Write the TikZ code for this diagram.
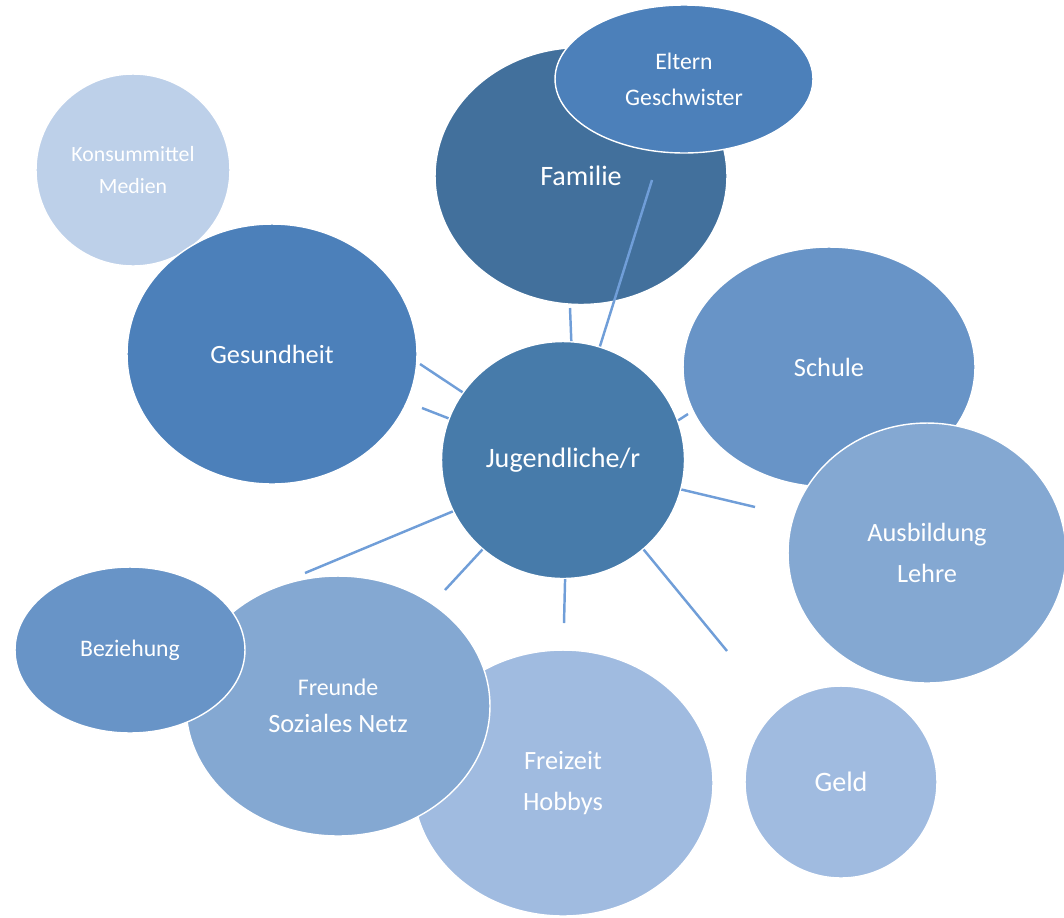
\documentclass[tikz,border=0pt]{standalone}
\usepackage{fontspec}
\setmainfont{Carlito}
\usetikzlibrary{shapes}
\tikzset{
  bubble/.style = {ellipse, draw=white, line width=0.8pt, inner sep=0pt, align=center,
  text=white},
  bub_dark/.style = {bubble, fill=my_dark},
  bub_mid/.style = {bubble, fill=my_mid},
  bub_lt/.style = {bubble, fill=my_light},
  bub_lt2/.style = {bubble, fill=my_lighter},
  bub_pale/.style = {bubble, fill=my_pale}
}
\definecolor{my_dark}{RGB}{66, 112, 156}
\definecolor{my_core}{RGB}{71, 123, 170}
\definecolor{my_mid}{RGB}{76, 128, 186}
\definecolor{my_light}{RGB}{104, 148, 199}
\definecolor{my_lighter}{RGB}{132, 168, 210}
\definecolor{my_pale}{RGB}{160, 187, 224}
\definecolor{my_paler}{RGB}{189, 208, 233}
\definecolor{my_line}{RGB}{112, 158, 216}

\begin{document}
\begin{tikzpicture}[x=0.02cm, y=-0.02cm,
        spoke/.style={draw=my_line, line width=1.4pt},
        f12/.style={font=\fontsize{12.4}{18}\selectfont},
        f13/.style={font=\fontsize{13.5}{20.5}\selectfont},
        f15/.style={font=\fontsize{15}{23}\selectfont},
        f16/.style={font=\fontsize{16}{20}\selectfont}]
    \useasboundingbox (0,0) rectangle (1064,917);
    % outer ring, back to front
    \node [bubble, fill=my_paler, f12, minimum width=3.88cm, minimum height=3.84cm] (konsum) at (133,170) {Konsummittel\\Medien};
    \node [bub_mid, f15, minimum width=5.8cm, minimum height=5.2cm] (gesund) at (272,354) {Gesundheit};
    \node [bub_dark, f16, minimum width=5.84cm, minimum height=5.14cm] (familie) at (581,176) {Familie};
    \node [bub_mid, f13, minimum width=5.16cm, minimum height=2.96cm] (eltern) at (684,79) {Eltern\\Geschwister};
    \node [bub_lt, f15, minimum width=5.84cm, minimum height=4.8cm] (schule) at (829,367) {Schule};
    \node [bub_lt2, f15, minimum width=5.56cm, minimum height=5.2cm] (ausb) at (927,553) {Ausbildung\\Lehre};
    \node [bub_pale, f16, minimum width=3.84cm, minimum height=3.84cm] (geld) at (841,782) {Geld};
    \node [bub_pale, f15, minimum width=6cm, minimum height=5.32cm] (freizeit) at (563,783) {Freizeit\\Hobbys};
    \node [bub_lt2, font=\fontsize{15}{21}\selectfont, minimum width=6.08cm, minimum height=5.2cm] (freunde) at (338,706) {{\fontsize{13.6}{21}\selectfont Freunde}\\Soziales Netz};
    \node [bub_lt, f13, minimum width=4.6cm, minimum height=3.32cm] (bezieh) at (130,650) {Beziehung};
    % centre
    \node [bubble, fill=my_core, f16, minimum width=4.86cm, minimum height=4.74cm] (jug) at (563,460) {Jugendliche/r};

    \coordinate (e_fam1) at (570,308);
    \coordinate (e_fam2) at (652,180);
    \coordinate (e_ges1) at (420,364);
    \coordinate (e_ges2) at (422,408);
    \coordinate (e_sch) at (688,414);
    \coordinate (e_aus) at (755,507);
    \coordinate (e_geld) at (727,651);
    \coordinate (e_frz) at (564,623);
    \coordinate (e_fre) at (445,590);
    \coordinate (e_bez) at (305,573);
    \draw[spoke] (jug.86) -- (e_fam1);
    \draw[spoke] (jug.72.6) -- (e_fam2);
    \draw[spoke] (jug.146) -- (e_ges1);
    \draw[spoke] (jug.160.4) -- (e_ges2);
    \draw[spoke] (jug.19.7) -- (e_sch);
    \draw[spoke] (jug.-14) -- (e_aus);
    \draw[spoke] (jug.-48.6) -- (e_geld);
    \draw[spoke] (jug.-89.5) -- (e_frz);
    \draw[spoke] (jug.-132) -- (e_fre);
    \draw[spoke] (jug.-155.8) -- (e_bez);
\end{tikzpicture}
\end{document}
